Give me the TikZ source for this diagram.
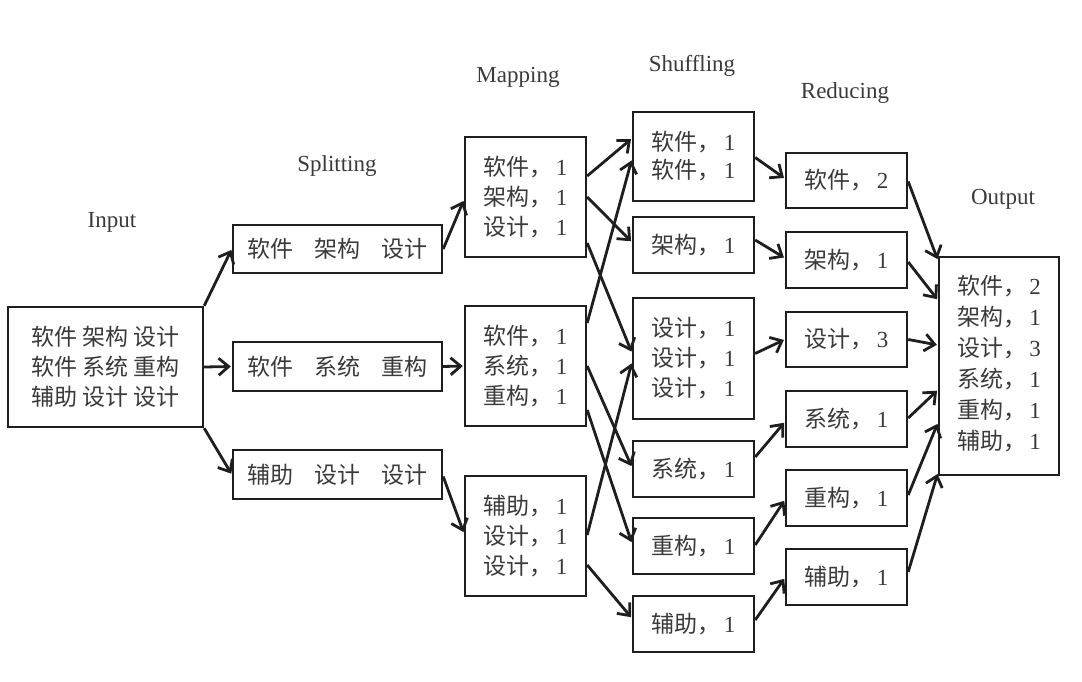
\documentclass[tikz,border=0pt]{standalone}
\usepackage{fontspec}
\setmainfont{Liberation Serif}
\newfontfamily\cjk{Noto Sans CJK SC}
\usetikzlibrary{arrows.meta,calc}
\definecolor{ink}{HTML}{1E1E1E}
\definecolor{txt}{HTML}{3A3A3A}
\newcommand{\zh}[1]{{\cjk #1}}
\newcommand{\kv}[2]{{\cjk #1，}\hspace{3pt}#2}
\tikzset{
  box/.style={draw=ink, line width=2.4pt, fill=white, inner sep=0pt, align=center,
    text=txt, font=\fontsize{23}{30}\selectfont},
  lbl/.style={text=txt, font=\fontsize{23}{26}\selectfont, inner sep=0pt},
  conn/.style={draw=ink, line width=2.8pt, -{Straight Barb[length=10pt,width=17pt,line width=2.8pt]}, shorten >=1pt}
}
\begin{document}
\begin{tikzpicture}[x=1pt,y=-1pt]
\useasboundingbox (0,0) rectangle (1082,682);
% labels
\node[lbl] (lin) at (112,222) {Input};
\node[lbl] (lsp) at (337,166) {Splitting};
\node[lbl] (lmp) at (518,77) {Mapping};
\node[lbl] (lsh) at (692,66) {Shuffling};
\node[lbl] (lrd) at (845,93) {Reducing};
\node[lbl] (lout) at (1003,199) {Output};
% input
\node[box, minimum width=195pt, minimum height=120pt] (in) at (105.5,367)
  {\zh{软件 架构 设计}\\ \zh{软件 系统 重构}\\ \zh{辅助 设计 设计}};
% splitting
\node[box, minimum width=209pt, minimum height=48pt] (s1) at (337.5,249) {\zh{软件\hspace{0.9em}架构\hspace{0.9em}设计}};
\node[box, minimum width=209pt, minimum height=49pt] (s2) at (337.5,366.5) {\zh{软件\hspace{0.9em}系统\hspace{0.9em}重构}};
\node[box, minimum width=209pt, minimum height=49pt] (s3) at (337.5,474.5) {\zh{辅助\hspace{0.9em}设计\hspace{0.9em}设计}};
% mapping
\node[box, minimum width=121pt, minimum height=120pt] (m1) at (525.5,197) {\kv{软件}{1}\\ \kv{架构}{1}\\ \kv{设计}{1}};
\node[box, minimum width=121pt, minimum height=120pt] (m2) at (525.5,366) {\kv{软件}{1}\\ \kv{系统}{1}\\ \kv{重构}{1}};
\node[box, minimum width=121pt, minimum height=120pt] (m3) at (525.5,536) {\kv{辅助}{1}\\ \kv{设计}{1}\\ \kv{设计}{1}};
% shuffling
\node[box, minimum width=121pt, minimum height=89pt] (h1) at (693.5,156.5) {\kv{软件}{1}\\[-2pt] \kv{软件}{1}};
\node[box, minimum width=121pt, minimum height=56pt] (h2) at (693.5,245) {\kv{架构}{1}};
\node[box, minimum width=121pt, minimum height=121pt] (h3) at (693.5,358.5) {\kv{设计}{1}\\ \kv{设计}{1}\\ \kv{设计}{1}};
\node[box, minimum width=121pt, minimum height=56pt] (h4) at (693.5,469) {\kv{系统}{1}};
\node[box, minimum width=121pt, minimum height=56pt] (h5) at (693.5,546) {\kv{重构}{1}};
\node[box, minimum width=121pt, minimum height=56pt] (h6) at (693.5,624) {\kv{辅助}{1}};
% reducing
\node[box, minimum width=121pt, minimum height=55pt] (r1) at (846.5,180.5) {\kv{软件}{2}};
\node[box, minimum width=121pt, minimum height=56pt] (r2) at (846.5,260) {\kv{架构}{1}};
\node[box, minimum width=121pt, minimum height=55pt] (r3) at (846.5,339.5) {\kv{设计}{3}};
\node[box, minimum width=121pt, minimum height=56pt] (r4) at (846.5,419) {\kv{系统}{1}};
\node[box, minimum width=121pt, minimum height=56pt] (r5) at (846.5,498) {\kv{重构}{1}};
\node[box, minimum width=121pt, minimum height=56pt] (r6) at (846.5,577) {\kv{辅助}{1}};
% output
\node[box, minimum width=120pt, minimum height=218pt, font=\fontsize{23}{31}\selectfont] (out) at (999,366)
  {\raisebox{-4pt}{\begin{tabular}{@{}l@{}}\kv{软件}{2}\\ \kv{架构}{1}\\ \kv{设计}{3}\\ \kv{系统}{1}\\ \kv{重构}{1}\\ \kv{辅助}{1}\end{tabular}}};
% input -> splitting
\draw[conn] (in.north east) -- (s1.west);
\draw[conn] (in.east) -- (s2.west);
\draw[conn] (in.south east) -- (s3.west);
% splitting -> mapping
\draw[conn] (s1.east) -- ($(m1.west)+(0,3)$);
\draw[conn] (s2.east) -- (m2.west);
\draw[conn] ($(s3.east)+(0,2)$) -- ($(m3.west)+(0,-3)$);
% mapping -> shuffling
\draw[conn] ($(m1.east)+(0,-21)$) -- ($(h1.west)+(0,-18)$);
\draw[conn] (m1.east) -- ($(h2.west)+(0,-3)$);
\draw[conn] ($(m1.east)+(0,46)$) -- ($(h3.west)+(0,-6)$);
\draw[conn] ($(m2.east)+(0,-43)$) -- ($(h1.west)+(0,3)$);
\draw[conn] (m2.east) -- ($(h4.west)+(0,-2)$);
\draw[conn] ($(m2.east)+(0,44)$) -- ($(h5.west)+(0,-3)$);
\draw[conn] ($(m3.east)+(0,-1)$) -- ($(h3.west)+(0,4)$);
\draw[conn] ($(m3.east)+(0,29)$) -- ($(h6.west)+(0,-6)$);
% shuffling -> reducing
\draw[conn] ($(h1.east)+(0,1)$) -- ($(r1.west)+(0,-2)$);
\draw[conn] ($(h2.east)+(0,-5)$) -- ($(r2.west)+(0,-2)$);
\draw[conn] ($(h3.east)+(0,-5)$) -- ($(r3.west)+(0,0)$);
\draw[conn] ($(h4.east)+(0,-12)$) -- ($(r4.west)+(0,3)$);
\draw[conn] ($(h5.east)+(0,-1)$) -- ($(r5.west)+(0,2)$);
\draw[conn] ($(h6.east)+(0,-4)$) -- ($(r6.west)+(0,1)$);
% reducing -> output
\draw[conn] ($(r1.east)+(0,1)$) -- ($(out.west)+(0,-106)$);
\draw[conn] ($(r2.east)+(0,2)$) -- ($(out.west)+(0,-66)$);
\draw[conn] (r3.east) -- ($(out.west)+(0,-21)$);
\draw[conn] ($(r4.east)+(0,-1)$) -- ($(out.west)+(0,24)$);
\draw[conn] ($(r5.east)+(0,-3)$) -- ($(out.west)+(0,57)$);
\draw[conn] ($(r6.east)+(0,-5)$) -- ($(out.west)+(0,107)$);
\end{tikzpicture}
\end{document}
